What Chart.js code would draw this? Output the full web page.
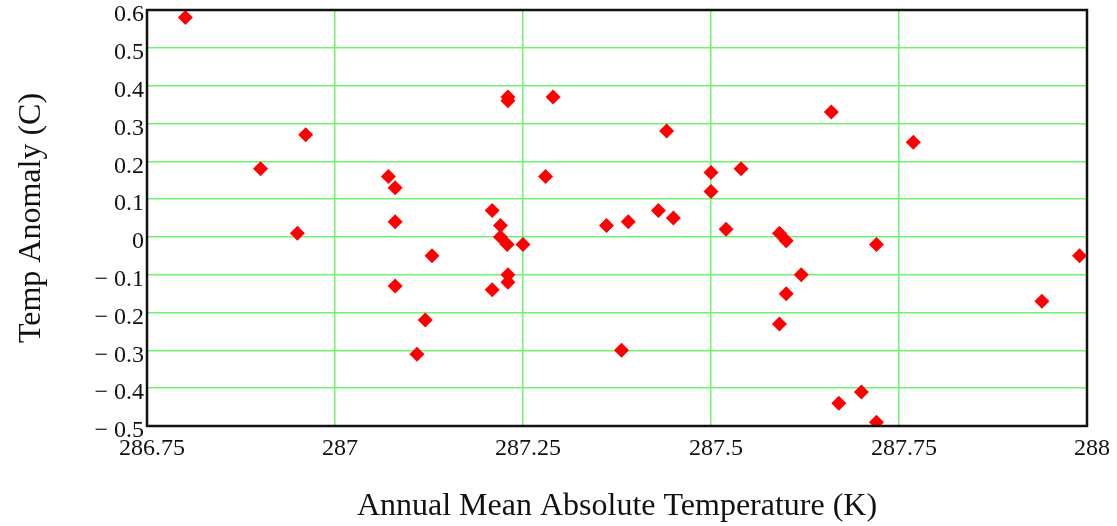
<!DOCTYPE html>
<html>
<head>
<meta charset="utf-8">
<script src="https://cdn.jsdelivr.net/npm/chart.js@4"></script>
<style>
  html, body { margin: 0; padding: 0; background: #fff; }
  #wrap { width: 1117px; height: 526px; }
</style>
</head>
<body>
<div id="wrap"><canvas id="chart"></canvas></div>
<script>
// annual mean absolute temperature (K) vs temp anomaly (C)
const absTemp = [
  286.801, 286.901, 286.961, 286.950, 287.071, 287.080, 287.080, 287.080,
  287.129, 287.120, 287.109, 287.209, 287.220, 287.220, 287.229, 287.250,
  287.230, 287.230, 287.290, 287.280, 287.230, 287.230, 287.209, 287.361,
  287.390, 287.381, 287.430, 287.450, 287.441, 287.500, 287.500, 287.540,
  287.520, 287.591, 287.600, 287.620, 287.600, 287.591, 287.660, 287.769,
  287.720, 287.700, 287.670, 287.720, 287.940, 287.990
];
const anomaly = [
  0.58, 0.18, 0.27, 0.01, 0.16, 0.13, 0.04, -0.13,
  -0.05, -0.22, -0.31, 0.07, 0.03, 0.00, -0.02, -0.02,
  0.37, 0.36, 0.37, 0.16, -0.10, -0.12, -0.14, 0.03,
  0.04, -0.30, 0.07, 0.05, 0.28, 0.17, 0.12, 0.18,
  0.02, 0.01, -0.01, -0.10, -0.15, -0.23, 0.33, 0.25,
  -0.02, -0.41, -0.44, -0.49, -0.17, -0.05
];
const xTicks = [286.75, 287, 287.25, 287.5, 287.75, 288];

const serif = '"Liberation Serif", "Times New Roman", serif';
const gridGreen = 'rgb(110, 245, 110)';

const frame = {
  id: 'frame',
  afterDraw(chart) {
    const { ctx, chartArea: a } = chart;
    ctx.save();
    ctx.strokeStyle = '#111';
    ctx.lineWidth = 2.5;
    ctx.strokeRect(a.left, a.top, a.right - a.left, a.bottom - a.top);
    ctx.restore();
  }
};

function fmt(v) {
  const r = Math.round(v * 100) / 100;
  if (r === 0) return '0';
  return r < 0 ? '\u2212 ' + Math.abs(r) : String(r);
}

new Chart(document.getElementById('chart'), {
  type: 'scatter',
  data: {
    datasets: [{
      data: absTemp.map((x, i) => ({ x: x, y: anomaly[i] })),
      pointStyle: 'rectRot',
      pointRadius: 7.5,
      pointHoverRadius: 7.5,
      backgroundColor: 'rgb(255, 0, 0)',
      borderWidth: 0
    }]
  },
  options: {
    responsive: true,
    maintainAspectRatio: false,
    animation: false,
    layout: { padding: { top: 10, right: 30, left: 0, bottom: 0 } },
    plugins: { legend: { display: false }, tooltip: { enabled: false } },
    scales: {
      x: {
        type: 'linear',
        min: 286.75,
        max: 288,
        afterBuildTicks: s => { s.ticks = xTicks.map(v => ({ value: v })); },
        afterFit: s => { s.height = 100; s.paddingLeft = 0; s.paddingRight = 0; },
        border: { display: false },
        grid: { color: gridGreen, lineWidth: 1.5, drawTicks: false },
        ticks: {
          padding: 8,
          labelOffset: 5,
          color: '#111',
          maxRotation: 0,
          font: { family: serif, size: 24 },
          callback: v => String(v)
        },
        title: {
          display: true,
          text: 'Annual Mean Absolute Temperature (K)',
          color: '#111',
          font: { family: serif, size: 32 },
          padding: { top: 27, bottom: 0 }
        }
      },
      y: {
        min: -0.5,
        max: 0.6,
        afterFit: s => { s.width = 147; s.paddingTop = 0; s.paddingBottom = 0; },
        border: { display: false },
        grid: { color: gridGreen, lineWidth: 1.5, drawTicks: false },
        ticks: {
          stepSize: 0.1,
          padding: 3,
          labelOffset: 5,
          color: '#111',
          font: { family: serif, size: 24 },
          callback: v => fmt(v)
        },
        title: {
          display: true,
          text: 'Temp Anomaly (C)',
          color: '#111',
          font: { family: serif, size: 32 },
          padding: { top: 12, bottom: 22 }
        }
      }
    }
  },
  plugins: [frame]
});
</script>
</body>
</html>
